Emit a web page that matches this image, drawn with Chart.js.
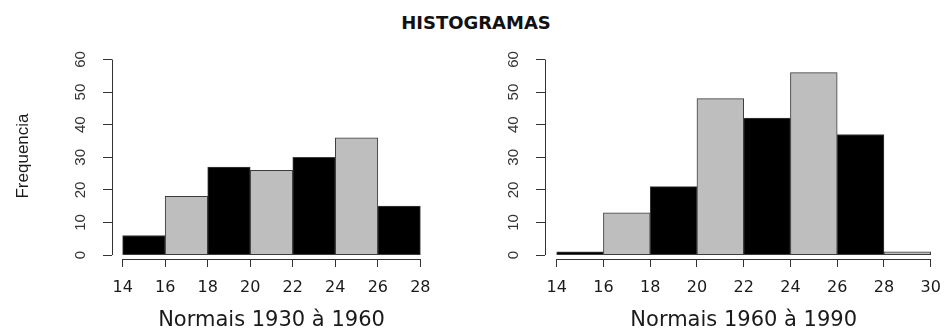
<!DOCTYPE html>
<html>
<head>
<meta charset="utf-8">
<script src="https://cdn.jsdelivr.net/npm/chart.js@4.4.1/dist/chart.umd.min.js"></script>
<style>
  html, body { margin:0; padding:0; background:#fff; }
  #wrap { position:relative; width:952px; height:333px; overflow:hidden; }
  #title { position:absolute; left:0; top:12px; width:952px; text-align:center;
           font:bold 18px 'DejaVu Sans', sans-serif; line-height:22px; color:#111; }
  .panel { position:absolute; top:0; width:476px; height:333px; }
</style>
</head>
<body>
<div id="wrap">
  <div id="title">HISTOGRAMAS</div>
  <div class="panel" style="left:0"><canvas id="hist1"></canvas></div>
  <div class="panel" style="left:476px"><canvas id="hist2"></canvas></div>
</div>
<script>
// class limits (°C) and counts for each normal period
const breaks1 = [14, 16, 18, 20, 22, 24, 26, 28];
const counts1 = [6, 18, 27, 26, 30, 36, 15];
const breaks2 = [14, 16, 18, 20, 22, 24, 26, 28, 30];
const counts2 = [1, 13, 21, 48, 42, 56, 37, 1];
const freqTicks = [0, 10, 20, 30, 40, 50, 60];
const xTitle1 = 'Normais 1930 à 1960';
const xTitle2 = 'Normais 1960 à 1990';
const yTitle = 'Frequencia';

const fills = ['#000000', '#bebebe'];
const ink = '#333333';

// axis lines only run from the first tick to the last one
const axisLines = {
  id: 'axisLines',
  afterDraw(chart){
    const { ctx, chartArea, scales:{ x, y } } = chart;
    const xt = x.ticks, yt = y.ticks;
    ctx.save();
    ctx.strokeStyle = ink; ctx.lineWidth = 1;
    ctx.beginPath();
    const by = Math.round(chartArea.bottom) + 0.5;
    ctx.moveTo(x.getPixelForValue(xt[0].value), by);
    ctx.lineTo(x.getPixelForValue(xt[xt.length-1].value), by);
    const lx = Math.round(chartArea.left) + 0.5;
    ctx.moveTo(lx, y.getPixelForValue(yt[0].value));
    ctx.lineTo(lx, y.getPixelForValue(yt[yt.length-1].value));
    ctx.stroke();
    ctx.restore();
  }
};

function makeHist(id, breaks, counts, xTitle, lay){
  const pts = counts.map((c, i) => ({ x:(breaks[i] + breaks[i+1]) / 2, y:c }));
  return new Chart(document.getElementById(id), {
    type: 'bar',
    data: { datasets: [{
      data: pts,
      backgroundColor: ctx => fills[ctx.dataIndex % 2],
      borderColor: '#3c3c3c', borderWidth: 1, borderSkipped: false,
      categoryPercentage: 1, barPercentage: 1
    }]},
    options: {
      responsive: true, maintainAspectRatio: false, animation: false,
      layout: { padding: { left:0, right:lay.right, top:53, bottom:0 } },
      plugins: { legend:{ display:false }, tooltip:{ enabled:false } },
      scales: {
        x: {
          type: 'linear', offset: false,
          min: breaks[0] - 0.5, max: breaks[breaks.length-1] + 0.5,
          afterBuildTicks: s => { s.ticks = breaks.map(v => ({ value:v })); },
          afterFit: s => { s.height = 74; },
          grid: { offset:false, drawOnChartArea:false, drawTicks:true, tickLength:8, color:ink },
          border: { display:false },
          ticks: { autoSkip:false, maxRotation:0, padding:11, color:'#1a1a1a',
                   font:{ family:'DejaVu Sans', size:16 } },
          title: { display:true, text:xTitle, color:'#1a1a1a', padding:0,
                   font:{ family:'DejaVu Sans', size:21 } }
        },
        y: {
          min: -1.2, max: 62,
          afterBuildTicks: s => { s.ticks = freqTicks.map(v => ({ value:v })); },
          afterFit: s => { s.width = lay.yWidth; },
          grid: { drawOnChartArea:false, drawTicks:true, tickLength:9, color:ink },
          border: { display:false },
          ticks: { autoSkip:false, minRotation:90, maxRotation:90, crossAlign:'center',
                   padding:14, color:'#333', font:{ family:'Liberation Sans', size:15 } },
          title: { display:lay.yTitle, text:yTitle, color:'#1a1a1a', padding:{ top:13, bottom:0 },
                   font:{ family:'Liberation Sans', size:17 } }
        }
      }
    },
    plugins: [axisLines]
  });
}

makeHist('hist1', breaks1, counts1, xTitle1, { yWidth:112, right:45, yTitle:true });
makeHist('hist2', breaks2, counts2, xTitle2, { yWidth:69, right:4, yTitle:false });
</script>
</body>
</html>
